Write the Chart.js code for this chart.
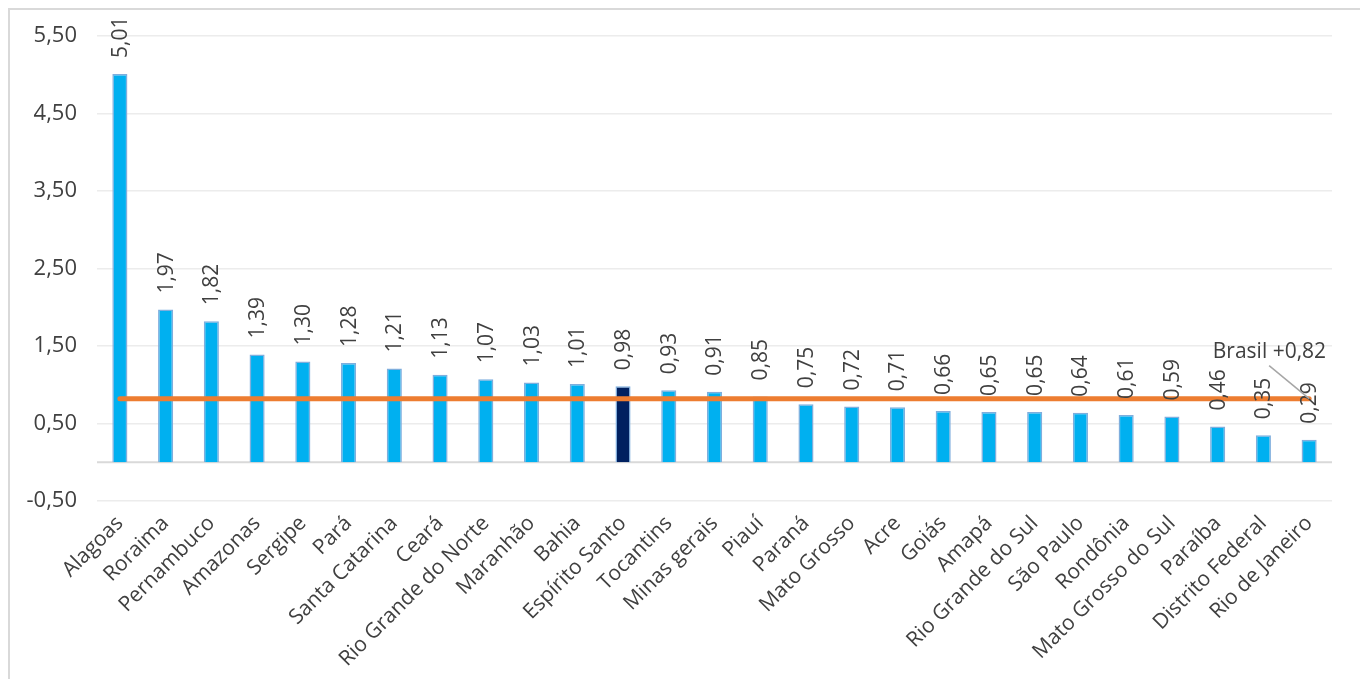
<!DOCTYPE html>
<html>
<head>
<meta charset="utf-8">
<script src="https://cdn.jsdelivr.net/npm/chart.js@4.4.1/dist/chart.umd.min.js"></script>
<style>
  html, body { margin: 0; padding: 0; background: #fff; }
  #frame { position: absolute; left: 8px; top: 8px; width: 1352px; height: 671px;
           border-left: 2px solid #d9d9d9; border-top: 2px solid #d9d9d9; box-sizing: border-box; }
  #wrap { position: absolute; left: 0; top: 0; width: 1360px; height: 679px; }
</style>
</head>
<body>
<div id="frame"></div>
<div id="wrap"><canvas id="grafico"></canvas></div>
<script>
const estados = ['Alagoas', 'Roraima', 'Pernambuco', 'Amazonas', 'Sergipe', 'Pará', 'Santa Catarina',
  'Ceará', 'Rio Grande do Norte', 'Maranhão', 'Bahia', 'Espírito Santo', 'Tocantins', 'Minas gerais',
  'Piauí', 'Paraná', 'Mato Grosso', 'Acre', 'Goiás', 'Amapá', 'Rio Grande do Sul', 'São Paulo',
  'Rondônia', 'Mato Grosso do Sul', 'Paraíba', 'Distrito Federal', 'Rio de Janeiro'];
const valores = [5.01, 1.97, 1.82, 1.39, 1.30, 1.28, 1.21, 1.13, 1.07, 1.03, 1.01, 0.98, 0.93, 0.91,
  0.85, 0.75, 0.72, 0.71, 0.66, 0.65, 0.65, 0.64, 0.61, 0.59, 0.46, 0.35, 0.29];
const brasil = 0.82;
const destaque = 'Espírito Santo';

const fmt = (v) => v.toFixed(2).replace('.', ',');
const FONTE = '"Open Sans", sans-serif';

// rótulos verticais acima das barras + rótulo da média Brasil
const rotulos = {
  id: 'rotulos',
  afterDatasetsDraw(chart) {
    const ctx = chart.ctx;
    const metaBar = chart.getDatasetMeta(1);
    ctx.save();
    ctx.fillStyle = '#404040';
    ctx.font = '21px ' + FONTE;
    ctx.textAlign = 'left';
    ctx.textBaseline = 'middle';
    metaBar.data.forEach((bar, i) => {
      ctx.save();
      ctx.translate(bar.x + 1, bar.y - 16);
      ctx.rotate(-Math.PI / 2);
      ctx.fillText(fmt(valores[i]), 0, 0);
      ctx.restore();
    });
    // linha guia e texto Brasil
    const metaLinha = chart.getDatasetMeta(0);
    const ult = metaLinha.data[metaLinha.data.length - 1];
    ctx.strokeStyle = '#a6a6a6';
    ctx.lineWidth = 1.5;
    ctx.beginPath();
    ctx.moveTo(ult.x - 40, ult.y - 33);
    ctx.lineTo(ult.x, ult.y);
    ctx.stroke();
    ctx.font = '21px ' + FONTE;
    ctx.textAlign = 'right';
    ctx.textBaseline = 'alphabetic';
    ctx.fillText('Brasil +' + fmt(brasil), ult.x + 17, ult.y - 41);
    ctx.restore();
  },
  beforeDatasetsDraw(chart) {
    // linha do zero
    const {ctx, chartArea, scales} = chart;
    const y0 = scales.y.getPixelForValue(0);
    ctx.save();
    ctx.strokeStyle = '#d9d9d9';
    ctx.lineWidth = 2;
    ctx.beginPath();
    ctx.moveTo(chartArea.left, y0);
    ctx.lineTo(chartArea.right, y0);
    ctx.stroke();
    ctx.restore();
  }
};

new Chart(document.getElementById('grafico'), {
  data: {
    labels: estados,
    datasets: [
      {
        type: 'line',
        data: estados.map(() => brasil),
        borderColor: '#ED7D31',
        borderWidth: 5,
        borderCapStyle: 'round',
        pointRadius: 0,
        order: 0
      },
      {
        type: 'bar',
        data: valores,
        backgroundColor: estados.map(e => e === destaque ? '#002060' : '#00B0F0'),
        borderColor: '#7FAEDD',
        borderWidth: 1.5,
        categoryPercentage: 1,
        barPercentage: 0.33,
        order: 1
      }
    ]
  },
  options: {
    responsive: true,
    maintainAspectRatio: false,
    animation: false,
    layout: {padding: {top: 36, right: 28, left: 0, bottom: 0}},
    plugins: {legend: {display: false}, tooltip: {enabled: false}},
    scales: {
      x: {
        offset: true,
        grid: {display: false},
        border: {display: false},
        ticks: {
          color: '#404040',
          font: {family: FONTE, size: 21},
          minRotation: 45,
          maxRotation: 45,
          autoSkip: false,
          padding: 2
        },
        afterFit(axis) { axis.height = 178; }
      },
      y: {
        min: -0.5,
        max: 5.5,
        grid: {color: '#ececec', lineWidth: 1.5, drawTicks: false},
        border: {display: false},
        ticks: {
          stepSize: 1,
          color: '#404040',
          font: {family: FONTE, size: 22},
          padding: 20,
          callback: (v) => fmt(v)
        },
        afterFit(axis) { axis.width = 97; }
      }
    }
  },
  plugins: [rotulos]
});
</script>
</body>
</html>
